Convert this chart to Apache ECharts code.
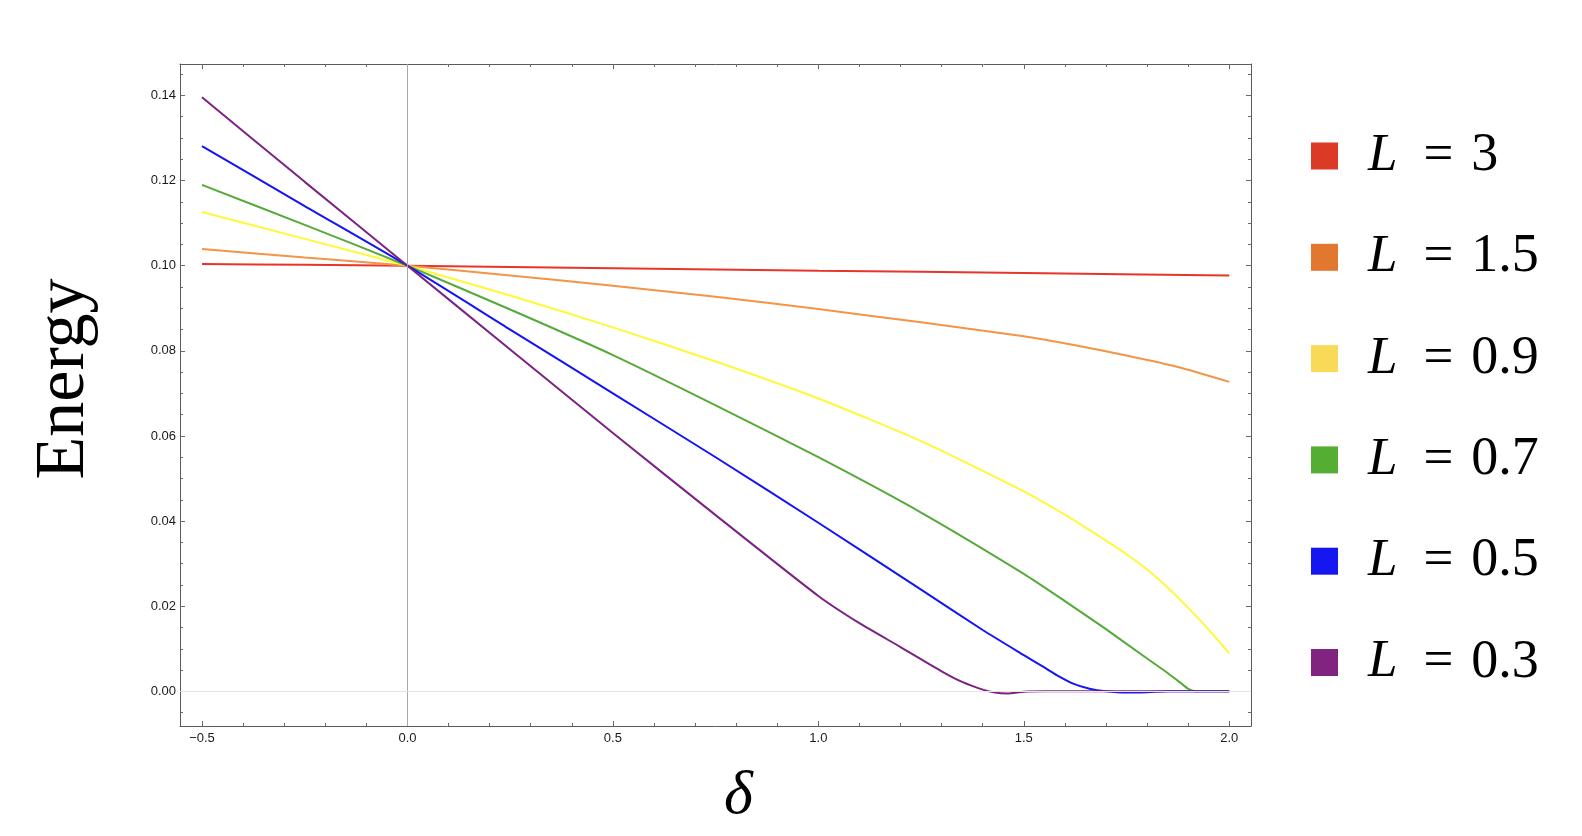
<!DOCTYPE html>
<html>
<head>
<meta charset="utf-8">
<script src="https://cdn.jsdelivr.net/npm/echarts@6/dist/echarts.min.js"></script>
<style>
html,body{margin:0;padding:0;background:#fff;}
#chart{width:1582px;height:836px;}
</style>
</head>
<body>
<div id="chart"></div>
<script>
// ---------- data ----------
const seriesNames = ['L = 3', 'L = 1.5', 'L = 0.9', 'L = 0.7', 'L = 0.5', 'L = 0.3'];
const legendNumbers = ['3', '1.5', '0.9', '0.7', '0.5', '0.3'];

const deltaL3 = [-0.5, -0.25, 0, 0.5, 1.0, 1.5, 2.0];
const energyL3 = [0.1004, 0.1002, 0.1, 0.0994, 0.0988, 0.0983, 0.0977];

const deltaL15 = [-0.5, -0.25, 0, 0.25, 0.5, 0.75, 1.0, 1.25, 1.5, 1.625, 1.75, 1.875, 2.0];
const energyL15 = [0.1039, 0.1019, 0.1, 0.0977, 0.0953, 0.0927, 0.0898, 0.0867, 0.0834, 0.0813, 0.0789, 0.0762, 0.0727];

const deltaL09 = [-0.5, -0.25, 0, 0.25, 0.5, 0.75, 1.0, 1.25, 1.5, 1.6, 1.7, 1.75, 1.8, 1.85, 1.9, 1.95, 2.0];
const energyL09 = [0.1126, 0.1063, 0.1, 0.0930, 0.0855, 0.0775, 0.0688, 0.0588, 0.0470, 0.0415, 0.0354, 0.0322, 0.0286, 0.0244, 0.0196, 0.0145, 0.0089];

const deltaL07 = [-0.5, -0.25, 0, 0.25, 0.5, 0.75, 1.0, 1.25, 1.5, 1.6, 1.7, 1.8, 1.85, 1.88, 1.9, 1.92, 2.0];
const energyL07 = [0.1190, 0.1096, 0.1, 0.0897, 0.0790, 0.0672, 0.0550, 0.0420, 0.0276, 0.0212, 0.0146, 0.0077, 0.0043, 0.0021, 0.0006, 0.0, 0.0];

const deltaL05 = [-0.5, -0.25, 0, 0.25, 0.5, 0.75, 1.0, 1.25, 1.4, 1.5, 1.55, 1.58, 1.62, 1.66, 1.7, 1.75, 1.8, 1.85, 2.0];
const energyL05 = [0.1281, 0.1140, 0.1, 0.0850, 0.0700, 0.0550, 0.0396, 0.0239, 0.0144, 0.0085, 0.0056, 0.0038, 0.0018, 0.0006, 0.0, -0.0003, -0.0002, 0.0, 0.0];

const deltaL03 = [-0.5, -0.25, 0, 0.25, 0.5, 0.75, 1.0, 1.1, 1.2, 1.3, 1.35, 1.4, 1.43, 1.46, 1.5, 1.55, 2.0];
const energyL03 = [0.1396, 0.1197, 0.1, 0.0803, 0.0607, 0.0414, 0.0224, 0.0160, 0.0104, 0.0047, 0.0022, 0.0004, -0.0003, -0.0005, -0.0001, 0.0, 0.0];

const xMajorTicks = [-0.5, 0, 0.5, 1, 1.5, 2];
const xMinorTicks = [-0.4, -0.3, -0.2, -0.1, 0.1, 0.2, 0.3, 0.4, 0.6, 0.7, 0.8, 0.9, 1.1, 1.2, 1.3, 1.4, 1.6, 1.7, 1.8, 1.9];
const yMajorTicks = [0, 0.02, 0.04, 0.06, 0.08, 0.10, 0.12, 0.14];
const yMinorTicks = [-0.005, 0.005, 0.01, 0.015, 0.025, 0.03, 0.035, 0.045, 0.05, 0.055, 0.065, 0.07, 0.075, 0.085, 0.09, 0.095, 0.105, 0.11, 0.115, 0.125, 0.13, 0.135, 0.145];

// ---------- styling ----------
const lineColors = ['#E8352B', '#F39446', '#FFF83A', '#55AA3A', '#1414F5', '#7B2382'];
const legendColors = ['#DB3A27', '#E27830', '#F8DA58', '#54AE34', '#1616F0', '#80247F'];

const deltas = [deltaL3, deltaL15, deltaL09, deltaL07, deltaL05, deltaL03];
const energies = [energyL3, energyL15, energyL09, energyL07, energyL05, energyL03];

const X_MIN = -0.5535, X_MAX = 2.0529, Y_MIN = -0.00815, Y_MAX = 0.14739;
const frameColor = '#5a5a5a';
const tickColor = '#6a6a6a';

function xFmt(v) { return v < 0 ? '\u2212' + Math.abs(v).toFixed(1) : v.toFixed(1); }
function yFmt(v) { return v.toFixed(2); }

function makeX(pos, ticks, len, showLabel, showLine, name) {
  const ax = {
    type: 'value', gridIndex: 0, position: pos, min: X_MIN, max: X_MAX,
    axisLine: { show: showLine, onZero: false, lineStyle: { color: frameColor, width: 1 } },
    axisTick: { show: true, inside: true, length: len, customValues: ticks, lineStyle: { color: tickColor, width: 1 } },
    axisLabel: { show: showLabel, customValues: ticks, formatter: xFmt, margin: 6,
      fontFamily: 'Liberation Sans, Arial, sans-serif', fontSize: 13, color: '#1a1a1a' },
    splitLine: { show: false }, minorTick: { show: false }
  };
  if (name) {
    ax.name = name;
    ax.nameLocation = 'middle';
    ax.nameGap = 40;
    ax.nameTextStyle = { fontFamily: 'Liberation Serif, serif', fontStyle: 'italic', fontSize: 62, color: '#000', padding: [0, 0, 0, 46] };
  }
  return ax;
}
function makeY(pos, ticks, len, showLabel, showLine, name) {
  const ax = {
    type: 'value', gridIndex: 0, position: pos, min: Y_MIN, max: Y_MAX,
    axisLine: { show: showLine, onZero: false, lineStyle: { color: frameColor, width: 1 } },
    axisTick: { show: true, inside: true, length: len, customValues: ticks, lineStyle: { color: tickColor, width: 1 } },
    axisLabel: { show: showLabel, customValues: ticks, formatter: yFmt, margin: 4,
      fontFamily: 'Liberation Sans, Arial, sans-serif', fontSize: 13, color: '#1a1a1a' },
    splitLine: { show: false }, minorTick: { show: false }
  };
  if (name) {
    ax.name = name;
    ax.nameLocation = 'middle';
    ax.nameRotate = 90;
    ax.nameGap = 80;
    ax.nameTextStyle = { fontFamily: 'Liberation Serif, serif', fontSize: 70, color: '#000', padding: [0, 0, 0, 32] };
  }
  return ax;
}

const series = [{
  type: 'line', name: '_axes0', data: [], xAxisIndex: 0, yAxisIndex: 0, silent: true, z: 1,
  markLine: {
    silent: true, symbol: 'none', label: { show: false }, animation: false,
    data: [
      { xAxis: 0, lineStyle: { color: '#a8a8a8', width: 1, type: 'solid' } },
      { yAxis: 0, lineStyle: { color: '#e4e4e4', width: 1, type: 'solid' } }
    ]
  }
}];
seriesNames.forEach(function (nm, i) {
  series.push({
    type: 'line', name: nm, xAxisIndex: 0, yAxisIndex: 0,
    data: deltas[i].map(function (d, j) { return [d, energies[i][j]]; }),
    showSymbol: false, symbol: 'none', smooth: 0.2, z: 3,
    lineStyle: { color: lineColors[i], width: 2 },
    itemStyle: { color: legendColors[i] },
    emphasis: { disabled: true }
  });
});

const chart = echarts.init(document.getElementById('chart'), null, { renderer: 'canvas' });
chart.setOption({
  animation: false,
  backgroundColor: '#ffffff',
  grid: { left: 180, top: 64, width: 1071, height: 662, containLabel: false },
  xAxis: [
    makeX('bottom', xMajorTicks, 5, true, true, '\u03b4'),
    makeX('bottom', xMinorTicks, 3, false, false),
    makeX('top', xMajorTicks, 5, false, true),
    makeX('top', xMinorTicks, 3, false, false)
  ],
  yAxis: [
    makeY('left', yMajorTicks, 5, true, true, 'Energy'),
    makeY('left', yMinorTicks, 3, false, false),
    makeY('right', yMajorTicks, 5, false, true),
    makeY('right', yMinorTicks, 3, false, false)
  ],
  legend: {
    orient: 'vertical', left: 1311, top: 126, padding: 0,
    itemWidth: 27, itemHeight: 27, itemGap: 41.3,
    icon: 'rect',
    selectedMode: false,
    data: seriesNames.map(function (nm, i) { return { name: nm, icon: 'rect', itemStyle: { color: legendColors[i] } }; }),
    formatter: function (name) {
      const i = seriesNames.indexOf(name);
      return '{l|L}{o|=}{n|' + legendNumbers[i] + '}';
    },
    textStyle: {
      color: '#000', fontFamily: 'Liberation Serif, serif', fontSize: 53, lineHeight: 60,
      rich: {
        l: { fontFamily: 'Liberation Serif, serif', fontStyle: 'italic', fontSize: 53, lineHeight: 60, padding: [0, 0, 0, 25] },
        o: { fontFamily: 'Liberation Serif, serif', fontSize: 53, lineHeight: 60, padding: [0, 18, 0, 26] },
        n: { fontFamily: 'Liberation Serif, serif', fontSize: 54, lineHeight: 60 }
      }
    }
  },
  series: series
});
</script>
</body>
</html>
